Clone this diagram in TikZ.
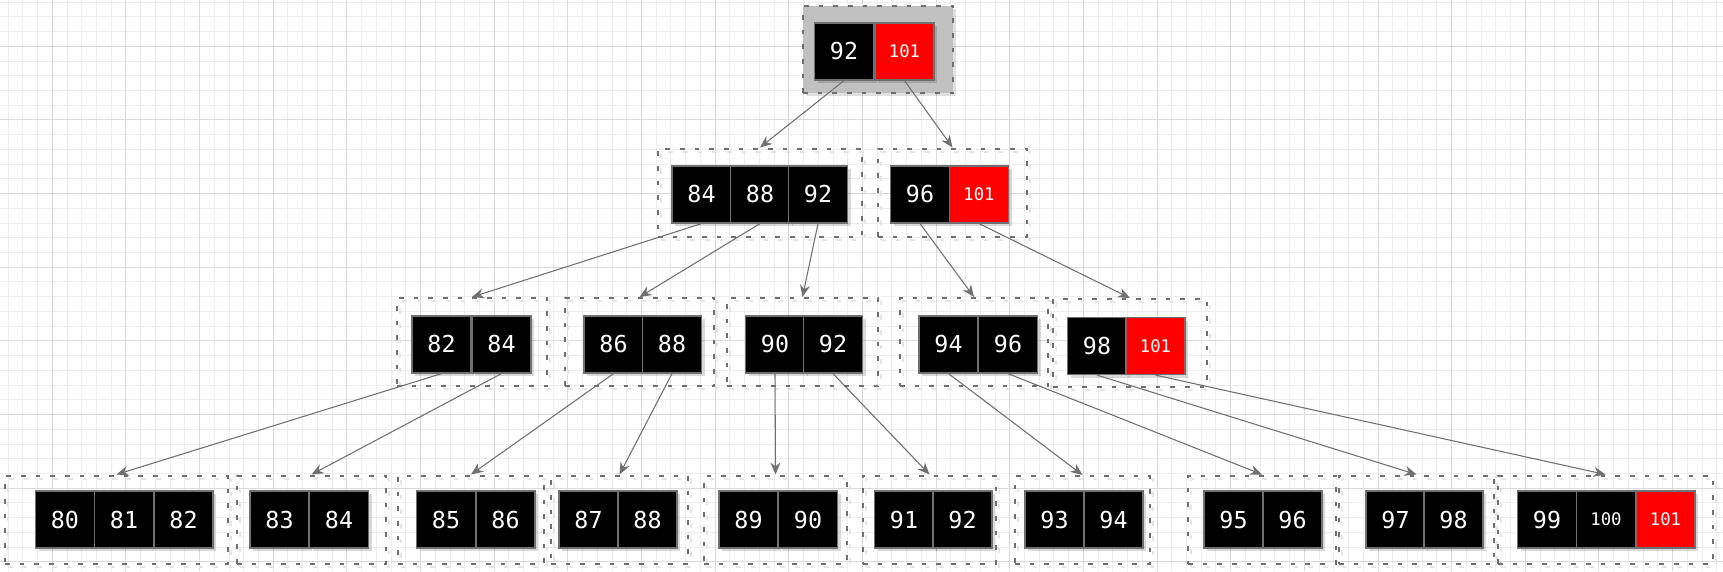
\documentclass[tikz,border=0pt]{standalone}
\usepackage{fontspec}
\usepackage{xcolor}
\newfontfamily\keyfont{DejaVu Sans Mono}
\usetikzlibrary{arrows.meta,shadows}

\definecolor{gridminor}{HTML}{EDEDED}
\definecolor{gridmajor}{HTML}{DADADA}
\definecolor{boxgray}{HTML}{6F6F6F}
\definecolor{linkgray}{HTML}{707070}
\definecolor{rootfill}{HTML}{C0C0C0}
\definecolor{keyred}{HTML}{FF0000}

\tikzset{
  key/.style={draw=linkgray, line width=0.9pt, fill=black, text=white, inner sep=0pt,
    minimum width=44.25pt, minimum height=42.75pt, font=\keyfont\fontsize{17.5}{18}\selectfont,
    drop shadow={shadow xshift=2.25pt, shadow yshift=-2.25pt, fill=black, opacity=0.15}},
  smallkey/.style={key, font=\keyfont\fontsize{13}{14}\selectfont},
  redkey/.style={smallkey, fill=keyred},
  group/.style={draw=boxgray, line width=1.5pt, dash pattern=on 3.5pt off 7.5pt, inner sep=0pt, minimum height=66pt},
  dashbox/.style={group, general shadow={draw=black!10, line width=1.5pt, dash pattern=on 3.5pt off 7.5pt,
    shadow xshift=2.25pt, shadow yshift=-2.25pt}},
  rootbox/.style={group, fill=rootfill, drop shadow={shadow xshift=2.25pt, shadow yshift=-2.25pt, fill=black, opacity=0.12}},
  link/.style={draw=linkgray, line width=0.8pt, -{Stealth[length=9pt, width=7.5pt]}}
}

\begin{document}
\begin{tikzpicture}[x=0.75pt,y=-0.75pt]
\useasboundingbox (0,0) rectangle (1723,571);
\clip (0,0) rectangle (1723,571);
\fill[white] (0,0) rectangle (1723,571);
\foreach \i in {-4,...,114}
    \draw[gridminor, line width=0.75pt] ({52.3+14.73*\i},0) -- ({52.3+14.73*\i},571);
\foreach \j in {-4,...,36}
    \draw[gridminor, line width=0.75pt] (0,{46.3+14.73*\j}) -- (1723,{46.3+14.73*\j});
\foreach \i in {-1,...,23}
    \draw[gridmajor, line width=0.75pt] ({52.3+73.65*\i},0) -- ({52.3+73.65*\i},571);
\foreach \j in {-1,...,7}
    \draw[gridmajor, line width=0.75pt] (0,{46.3+73.65*\j}) -- (1723,{46.3+73.65*\j});

\node[rootbox, minimum width=112.5pt, minimum height=65.25pt] (n0) at (878,49.5) {};
\foreach \nm/\xa/\xb/\y in {
    n1a/658/862/192.5, n1b/878/1027/192.5,
    n2a/397/547/342, n2b/565/714/342, n2c/727/878/342, n2d/900/1048/342, n2e/1053/1207/343,
    n3a/5/228/519.5, n3b/237/386/519.5, n3c/398/544/519.5, n3d/551/688/519.5, n3e/704/847/519.5,
    n3f/863/996/519.5, n3g/1015/1150/520, n3h/1188/1336/519.5, n3i/1339/1494/519.5, n3j/1498/1713/519.5}{
    \node[dashbox, minimum width={0.75pt*(\xb-\xa)}] (\nm) at ({(\xa+\xb)/2},\y) {};
}

\foreach \nm/\x/\y/\txt/\st in {
    c0a/844/51.5/92/key, c0b/904.5/51.5/101/redkey,
    c1a/701.5/194.5/84/key, c1b/760/194.5/88/key, c1c/818/194.5/92/key, c1d/920/194.5/96/key, c1e/979/194.5/101/redkey,
    c2a/441.5/344.5/82/key, c2b/501.5/344.5/84/key, c2c/613.5/344.5/86/key, c2d/672/344.5/88/key,
    c2e/775/344.5/90/key, c2f/833/344.5/92/key, c2g/948.5/344.5/94/key, c2h/1008/344.5/96/key,
    c2i/1097/346/98/key, c2j/1155.5/346/101/redkey,
    c3a/65/519.5/80/key, c3b/124/519.5/81/key, c3c/183.5/519.5/82/key, c3d/279.5/519.5/83/key, c3e/339/519.5/84/key,
    c3f/446/519.5/85/key, c3g/505.5/519.5/86/key, c3h/588.5/519.5/87/key, c3i/647.5/519.5/88/key,
    c3j/748.5/519.5/89/key, c3k/808/519.5/90/key, c3l/904/519.5/91/key, c3m/962.5/519.5/92/key,
    c3n/1054.5/519.5/93/key, c3o/1113.5/519.5/94/key, c3p/1233.5/519.5/95/key, c3q/1292.5/519.5/96/key,
    c3r/1395.5/519.5/97/key, c3s/1453.5/519.5/98/key,
    c3t/1547/519.5/99/key, c3u/1606/519.5/100/smallkey, c3v/1665.5/519.5/101/redkey}{
    \node[\st] (\nm) at (\x,\y) {\txt};
}

\foreach \a/\b in {c0a/n1a, c0b/n1b, c1a/n2a, c1b/n2b, c1c/n2c, c1d/n2d, c1e/n2e,
    c2a/n3a, c2b/n3b, c2c/n3c, c2d/n3d, c2e/n3e, c2f/n3f, c2g/n3g, c2h/n3h, c2i/n3i, c2j/n3j}{
    \draw[link] (\a.south) -- (\b.north);
}
\end{tikzpicture}
\end{document}
